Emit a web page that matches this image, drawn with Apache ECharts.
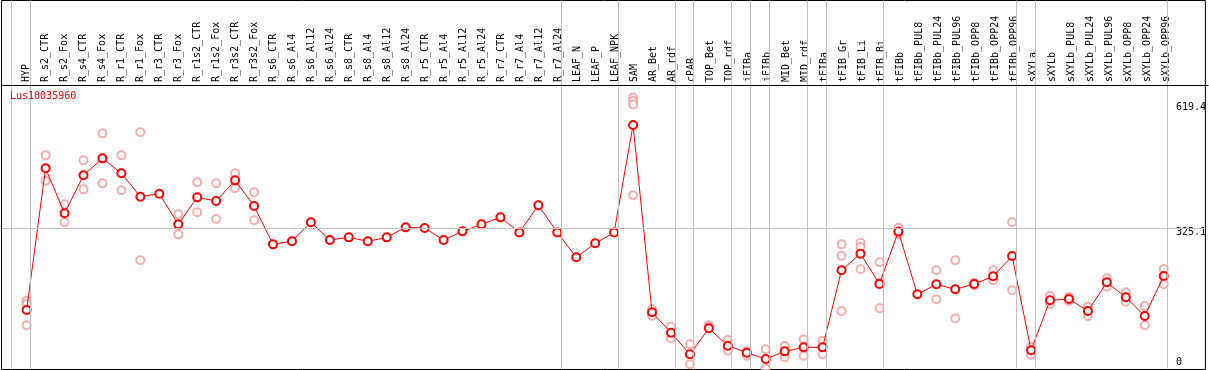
<!DOCTYPE html>
<html>
<head>
<meta charset="utf-8">
<script src="https://cdn.jsdelivr.net/npm/echarts@6/dist/echarts.min.js"></script>
<style>
html,body{margin:0;padding:0;background:#fff;}
#chart{width:1209px;height:370px;}
</style>
</head>
<body>
<div id="chart"></div>
<script>
// ---- data ----
const categories = ["HYP","R_s2_CTR","R_s2_Fox","R_s4_CTR","R_s4_Fox","R_r1_CTR","R_r1_Fox","R_r3_CTR","R_r3_Fox","R_r1s2_CTR","R_r1s2_Fox","R_r3s2_CTR","R_r3s2_Fox","R_s6_CTR","R_s6_Al4","R_s6_Al12","R_s6_Al24","R_s8_CTR","R_s8_Al4","R_s8_Al12","R_s8_Al24","R_r5_CTR","R_r5_Al4","R_r5_Al12","R_r5_Al24","R_r7_CTR","R_r7_Al4","R_r7_Al12","R_r7_Al24","LEAF_N","LEAF_P","LEAF_NPK","SAM","AR_Bet","AR_rdf","cPAR","TOP_Bet","TOP_rdf","iFIBa","iFIBb","MID_Bet","MID_rdf","tFIBa","tFIB_Gr","tFIB_Li","tFIB_Bi","tFIBb","tFIBb_PUL8","tFIBb_PUL24","tFIBb_PUL96","tFIBb_OPP8","tFIBb_OPP24","tFIBb_OPP96","sXYLa","sXYLb","sXYLb_PUL8","sXYLb_PUL24","sXYLb_PUL96","sXYLb_OPP8","sXYLb_OPP24","sXYLb_OPP96"];

const meanValues = [131.9,465.7,359.7,449.2,489.2,453.9,398.9,405.9,333.7,397.3,388.7,437.4,376.9,286.6,293.7,338.5,296.8,303.1,293.7,303.1,326.6,325.1,296.8,317.2,333.7,350.2,314.8,378.5,314.8,256.0,289.0,314.8,567.7,126.5,78.5,27.5,88.8,47.9,31.4,16.5,34.5,43.9,43.9,225.4,264.7,193.2,317.0,168.9,192.4,180.7,193.2,211.3,259.1,36.9,154.7,157.8,129.6,197.1,161.8,117.8,212.0];

const replicateValues = [
  [153.9,146,95.8],[496.3,436.5],[380.8,338.4],[484.5,416.2],[548.1,430.3],[496.3,413.9],[550.5,249],[],[357.4,310.3],[432.8,362.1],[430.4,346.3],[453.9,418.6],[409.2,343.2],
  [],[],[],[],[],[],[],[],[],[],[],[],[],[],[],[],[],[],[],
  [632.5,624.3,616,402.1],[134.3,118.5],[92.6,65.3],[51.1,3.9],[95.8,91.1],[61.3,36.1],[34.5,24.3],[39.3,-6],[47.1,20.4],[62.8,24.3],[59.7,27.5],
  [286.6,259.9,129.6],[290.5,281.1,227.8],[244.3,196.2,135.9],[325.8,311],[],[225.4,157.1],[249.0,112.1],[196,190],[225.4,201.9],[338.5,178.3],
  [45.5,25.9],[165.6,145.4],[163.3,153.1],[139.7,117.8],[206.6,186.8],[173.6,151.5],[141.3,95.8],[228.5,192.4]
];

// separators drawn after these categories ("" = before the first)
const separatorsAfter = ["", "HYP", "R_r7_Al24", "LEAF_NPK", "AR_rdf", "cPAR", "TOP_rdf", "iFIBa", "iFIBb", "MID_rdf", "tFIBa", "tFIB_Bi", "tFIBb_OPP96", "sXYLa", "sXYLb_OPP96"];

const yTickLabels = [0, 325.1, 619.4];
const geneName = "Lus10035960";

// ---- build ----
const meanData = meanValues.map((v, i) => [i, v]);
const repData = [];
replicateValues.forEach((arr, i) => arr.forEach(v => repData.push([i, v])));
const sepOffset = 0.2;
const sepLines = separatorsAfter.map(n => ({ xAxis: categories.indexOf(n) + sepOffset }));

const MONO = 'DejaVu Sans Mono';
const chart = echarts.init(document.getElementById('chart'));
chart.setOption({
  animation: false,
  title: {
    text: geneName, left: 10, top: 91, padding: 0,
    textStyle: { color: '#ff0000', fontSize: 10, fontFamily: MONO, fontWeight: 'normal' }
  },
  grid: [
    { left: 1.5, right: 0.5, top: 0.5, bottom: 0.5, show: true, borderColor: '#000', borderWidth: 1, backgroundColor: 'transparent', containLabel: false },
    { left: 16.7, width: 1159, top: 0, height: 85, containLabel: false }
  ],
  xAxis: [
    { type: 'value', gridIndex: 0, min: -1.3263, max: 62.2, show: false },
    { type: 'category', gridIndex: 1, data: categories, position: 'bottom',
      axisLine: { show: false }, axisTick: { show: false }, splitLine: { show: false },
      axisLabel: { inside: true, rotate: 90, interval: 0, margin: 3, color: '#000', fontSize: 10, fontFamily: MONO } }
  ],
  yAxis: [
    { type: 'value', gridIndex: 0, min: -8.25, max: 861.1, position: 'right',
      axisLine: { show: false }, axisTick: { show: false }, splitLine: { show: false },
      axisLabel: {
        inside: true, margin: 29.5, align: 'left', customValues: yTickLabels, color: '#000', fontSize: 10, fontFamily: MONO,
        formatter: v => v === 0 ? '{z|0}' : '{t|' + v + '}',
        rich: {
          t: { padding: [8, 0, 0, 0], color: '#000', fontSize: 10, fontFamily: MONO },
          z: { padding: [0, 0, 8, 0], color: '#000', fontSize: 10, fontFamily: MONO }
        }
      } },
    { type: 'value', gridIndex: 1, show: false }
  ],
  graphic: [
    { type: 'line', shape: { x1: 1.5, y1: 85.5, x2: 1208.5, y2: 85.5 }, style: { stroke: '#000', lineWidth: 1 }, z: 10 }
  ],
  series: [
    {
      type: 'scatter', xAxisIndex: 0, yAxisIndex: 0, data: repData, z: 2,
      symbol: 'emptyCircle', symbolSize: 8,
      itemStyle: { color: '#f09a9a', borderColor: '#f09a9a', borderWidth: 1.2 },
      markLine: {
        silent: true, symbol: 'none', animation: false,
        label: { show: false },
        lineStyle: { color: '#c0c0c0', width: 1, type: 'solid' },
        data: sepLines.concat([{ yAxis: 325.1 }])
      }
    },
    {
      type: 'line', xAxisIndex: 0, yAxisIndex: 0, data: meanData, z: 3,
      symbol: 'emptyCircle', symbolSize: 8,
      lineStyle: { color: '#ff0000', width: 1 },
      itemStyle: { color: '#ff0000', borderColor: '#ff0000', borderWidth: 1.6 }
    }
  ]
});
</script>
</body>
</html>
